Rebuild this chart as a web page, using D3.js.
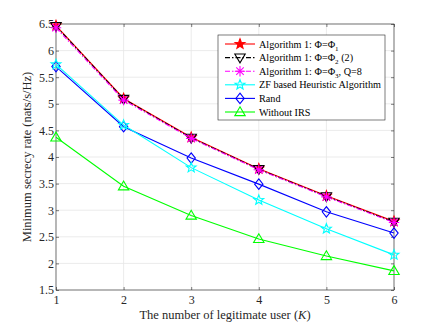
<!DOCTYPE html>
<html>
<head>
<meta charset="utf-8">
<script src="https://cdn.jsdelivr.net/npm/d3@7"></script>
<style>
  body { margin: 0; background: #fff; }
  text { font-family: "Liberation Serif", "Times New Roman", serif; }
</style>
</head>
<body>
<div id="chart"></div>
<script>
// data
const users = [1, 2, 3, 4, 5, 6];
const alg1Phi1 = [6.47, 5.10, 4.37, 3.78, 3.27, 2.79];
const alg1Phi2 = [6.46, 5.09, 4.36, 3.77, 3.26, 2.78];
const alg1Phi3 = [6.43, 5.07, 4.35, 3.76, 3.25, 2.77];
const zfHeuristic = [5.74, 4.60, 3.80, 3.19, 2.65, 2.16];
const randPhase = [5.70, 4.57, 3.98, 3.49, 2.97, 2.57];
const withoutIRS = [4.37, 3.45, 2.90, 2.46, 2.14, 1.86];
const yTicks = [1.5, 2, 2.5, 3, 3.5, 4, 4.5, 5, 5.5, 6, 6.5];

const series = [
  { name: "alg1", values: alg1Phi1, color: "#ff0000", dash: null, marker: "pentagram", fill: "#ff0000" },
  { name: "alg2", values: alg1Phi2, color: "#000000", dash: "5,2,1.5,2", marker: "triangleDown", fill: "none" },
  { name: "alg3", values: alg1Phi3, color: "#ff00ff", dash: "5,2,1.5,2", marker: "asterisk", fill: "none" },
  { name: "zf", values: zfHeuristic, color: "#00ffff", dash: null, marker: "pentagram", fill: "none" },
  { name: "rand", values: randPhase, color: "#0000ff", dash: null, marker: "diamond", fill: "none" },
  { name: "noirs", values: withoutIRS, color: "#00ff00", dash: null, marker: "triangleUp", fill: "none" }
];

const width = 436, height = 327;
const margin = { top: 24, right: 42, bottom: 37, left: 56 };
const w = width - margin.left - margin.right;
const h = height - margin.top - margin.bottom;

const svg = d3.select("#chart").append("svg")
  .attr("width", width).attr("height", height);
const g = svg.append("g").attr("transform", `translate(${margin.left},${margin.top})`);

const x = d3.scaleLinear().domain([1, 6]).range([0, w]);
const y = d3.scaleLinear().domain([1.5, 6.5]).range([h, 0]);

// grid
g.append("g").selectAll("line").data(users).enter().append("line")
  .attr("x1", d => x(d)).attr("x2", d => x(d)).attr("y1", 0).attr("y2", h)
  .attr("stroke", "#e6e6e6").attr("stroke-width", 0.8);
g.append("g").selectAll("line").data(yTicks).enter().append("line")
  .attr("x1", 0).attr("x2", w).attr("y1", d => y(d)).attr("y2", d => y(d))
  .attr("stroke", "#e6e6e6").attr("stroke-width", 0.8);

// axes (MATLAB style, ticks inward on all sides)
const axisColor = "#262626";
function styleAxis(sel) {
  sel.select(".domain").remove();
  sel.selectAll("line").attr("stroke", axisColor).attr("stroke-width", 0.6);
  sel.selectAll("text").attr("fill", "#262626").style("font-size", "12px");
}
g.append("g").attr("transform", `translate(0,${h})`)
  .call(d3.axisBottom(x).tickValues(users).tickFormat(d3.format("d")).tickSize(-3).tickPadding(5))
  .call(styleAxis);
g.append("g")
  .call(d3.axisLeft(y).tickValues(yTicks).tickFormat(d => d).tickSize(-3).tickPadding(2))
  .call(styleAxis);
g.append("g")
  .call(d3.axisTop(x).tickValues(users).tickFormat("").tickSize(-3))
  .call(styleAxis);
g.append("g").attr("transform", `translate(${w},0)`)
  .call(d3.axisRight(y).tickValues(yTicks).tickFormat("").tickSize(-3))
  .call(styleAxis);
g.append("rect").attr("width", w).attr("height", h)
  .attr("fill", "none").attr("stroke", axisColor).attr("stroke-width", 0.6);

// markers
function markerPath(type, s) {
  if (type === "pentagram") {
    const pts = [];
    for (let i = 0; i < 10; i++) {
      const r = i % 2 === 0 ? s : s * 0.42;
      const a = -Math.PI / 2 + i * Math.PI / 5;
      pts.push([r * Math.cos(a), r * Math.sin(a)]);
    }
    return "M" + pts.map(p => p.join(",")).join("L") + "Z";
  }
  if (type === "triangleDown") return `M${-s},${-s * 0.7}L${s},${-s * 0.7}L0,${s}Z`;
  if (type === "triangleUp") return `M${-s},${s * 0.7}L${s},${s * 0.7}L0,${-s}Z`;
  if (type === "diamond") return `M0,${-s}L${s * 0.8},0L0,${s}L${-s * 0.8},0Z`;
  if (type === "asterisk") {
    let p = `M${-s},0L${s},0M0,${-s}L0,${s}`;
    const d = s * 0.72;
    p += `M${-d},${-d}L${d},${d}M${-d},${d}L${d},${-d}`;
    return p;
  }
  return "";
}

const line = d3.line().x((d, i) => x(users[i])).y(d => y(d));
const markerSize = 5.2;

// draw series, bottom-most first so the legend order is on top
const drawOrder = ["noirs", "rand", "zf", "alg1", "alg2", "alg3"];
drawOrder.forEach(name => {
  const s = series.find(d => d.name === name);
  g.append("path").datum(s.values)
    .attr("d", line).attr("fill", "none")
    .attr("stroke", s.color).attr("stroke-width", 1.1)
    .attr("stroke-dasharray", s.dash);
  g.append("g").selectAll("path").data(s.values).enter().append("path")
    .attr("transform", (d, i) => `translate(${x(users[i])},${y(d)})`)
    .attr("d", markerPath(s.marker, markerSize))
    .attr("fill", s.fill).attr("stroke", s.color).attr("stroke-width", 1.1);
});

// legend
const legendX = 218 - margin.left, legendY = 35 - margin.top;
const legend = g.append("g").attr("transform", `translate(${legendX},${legendY})`);
legend.append("rect").attr("width", 167).attr("height", 85)
  .attr("fill", "#fff").attr("stroke", axisColor).attr("stroke-width", 0.6);
const labels = [
  ["Algorithm 1: \u03A6=\u03A6", "1", ""],
  ["Algorithm 1: \u03A6=\u03A6", "2", " (2)"],
  ["Algorithm 1: \u03A6=\u03A6", "3", ", Q=8"],
  ["ZF based Heuristic Algorithm", "", ""],
  ["Rand", "", ""],
  ["Without IRS", "", ""]
];
series.forEach((s, i) => {
  const ly = 9 + i * 13.6;
  const row = legend.append("g").attr("transform", `translate(0,${ly})`);
  row.append("line").attr("x1", 7).attr("x2", 37).attr("y1", 0).attr("y2", 0)
    .attr("stroke", s.color).attr("stroke-width", 1.1).attr("stroke-dasharray", s.dash);
  row.append("path").attr("transform", "translate(22,0)")
    .attr("d", markerPath(s.marker, markerSize))
    .attr("fill", s.fill).attr("stroke", s.color).attr("stroke-width", 1.1);
  const t = row.append("text").attr("x", 41).attr("y", 3.5)
    .style("font-size", "10.2px").attr("fill", "#000");
  t.append("tspan").text(labels[i][0]);
  if (labels[i][1]) {
    t.append("tspan").attr("dy", 3).style("font-size", "7px").text(labels[i][1]);
    t.append("tspan").attr("dy", -3).text(labels[i][2]);
  }
});

// axis labels
svg.append("text")
  .attr("x", margin.left + w / 2).attr("y", 319)
  .attr("text-anchor", "middle").style("font-size", "12.5px").attr("fill", "#262626")
  .call(t => {
    t.append("tspan").text("The number of legitimate user (");
    t.append("tspan").style("font-style", "italic").text("K");
    t.append("tspan").text(")");
  });
svg.append("text")
  .attr("transform", `translate(31,${margin.top + h / 2}) rotate(-90)`)
  .attr("text-anchor", "middle").style("font-size", "12.5px").attr("fill", "#262626")
  .text("Minimum secrecy rate (nats/s/Hz)");
</script>
</body>
</html>
